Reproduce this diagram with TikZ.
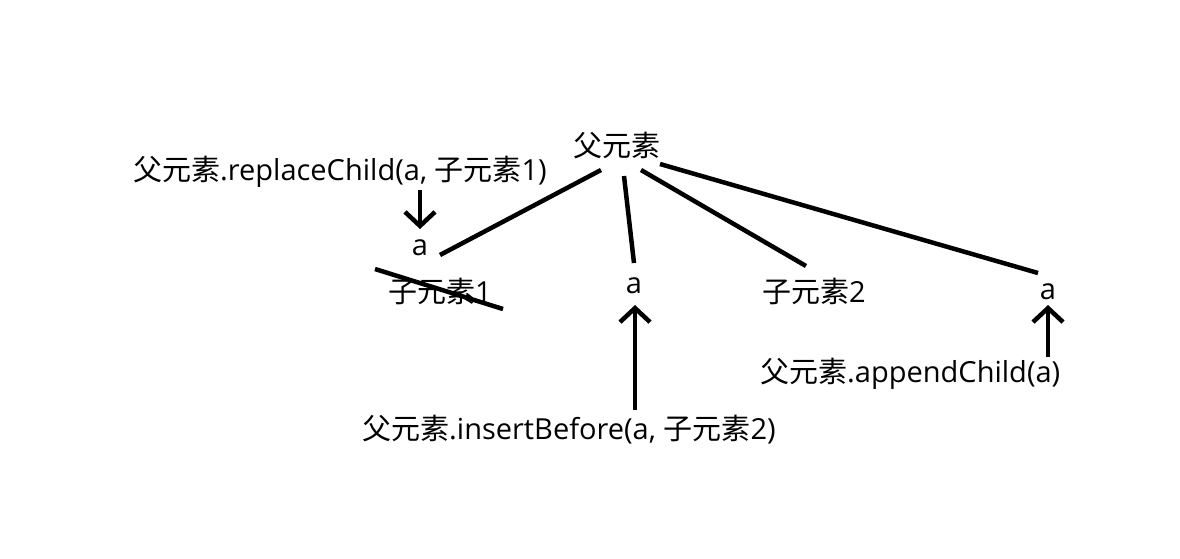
\documentclass[tikz,border=0pt]{standalone}
\usepackage{fontspec}
\setmainfont{Open Sans}
\newfontfamily\cjk{Noto Sans CJK SC}
\usetikzlibrary{arrows.meta}
\begin{document}
\begin{tikzpicture}[x=1pt,y=-1pt,
  lbl/.style={inner sep=0pt, font=\fontsize{29}{33}\selectfont},
  edge/.style={line width=4.5pt},
  arr/.style={line width=4.5pt, -{Straight Barb[length=14pt,width=30pt,line width=4.5pt]}}]
\useasboundingbox[fill=white] (0,0) rectangle (1180,558);
\node[lbl] (root) at (617,146) {\cjk 父元素};
\node[lbl,anchor=west] (rep) at (133,172) {{\cjk 父元素}.replaceChild(a, {\cjk 子元素}1)};
\node[lbl] (a1) at (420,248) {a};
\node[lbl,anchor=west] (c1) at (388,291) {{\cjk 子元素}1};
\node[lbl] (a2) at (634,286) {a};
\node[lbl,anchor=west] (c2) at (762,291) {{\cjk 子元素}2};
\node[lbl] (a3) at (1048,292) {a};
\node[lbl,anchor=west] (app) at (760,374) {{\cjk 父元素}.appendChild(a)};
\node[lbl,anchor=west] (ins) at (362,430) {{\cjk 父元素}.insertBefore(a, {\cjk 子元素}2)};
\coordinate (r1) at (601,170);
\coordinate (r2) at (624,176);
\coordinate (r3) at (641,170);
\coordinate (r4) at (660,164);
\coordinate (e1) at (440,255);
\coordinate (e2) at (634,263);
\coordinate (e3) at (806,266);
\coordinate (e4) at (1038,273);
\draw[edge] (r1) -- (e1);
\draw[edge] (r2) -- (e2);
\draw[edge] (r3) -- (e3);
\draw[edge] (r4) -- (e4);
\coordinate (s1) at (375,269);
\coordinate (s2) at (503,309);
\draw[edge] (s1) -- (s2);
\coordinate (d1) at (420,190);
\coordinate (d2) at (420,229);
\draw[arr] (d1) -- (d2);
\coordinate (u1) at (635,410);
\coordinate (u2) at (635,305);
\draw[arr] (u1) -- (u2);
\coordinate (v1) at (1048,357);
\coordinate (v2) at (1048,305);
\draw[arr] (v1) -- (v2);
\end{tikzpicture}
\end{document}
